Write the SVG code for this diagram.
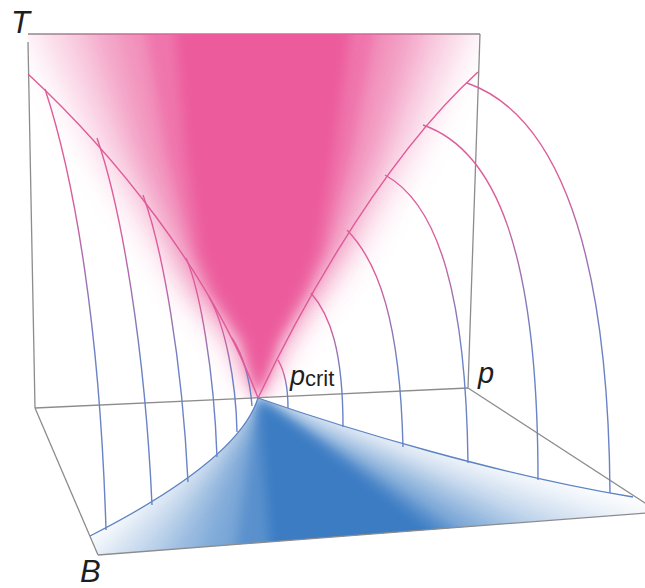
<svg xmlns="http://www.w3.org/2000/svg" width="645" height="588" viewBox="0 0 645 588">
  <defs>
    <style>
      .ax{fill:none;stroke:#8c8c8c;stroke-width:1.3}
      .pk{fill:#ec5b9c}
      .bl{fill:#3b7cc3}
      .bd{fill:none;stroke:#df5a98;stroke-width:1.4}
      .fl{fill:none;stroke:#5b82c2;stroke-width:1.3}
      .ln{fill:none;stroke:url(#lg);stroke-width:1.4}
      .lbl{font-family:"Liberation Sans",Arial,sans-serif;fill:#1e1e1e}
    </style>
    <linearGradient id="lg" x1="0" y1="0" x2="0" y2="1">
      <stop offset="0.22" stop-color="#de5c9a"/>
      <stop offset="0.6" stop-color="#6a82c6"/>
    </linearGradient>
    <filter id="b16" x="-40%" y="-40%" width="180%" height="180%">
      <feGaussianBlur stdDeviation="16"/>
    </filter>
    <filter id="b11" x="-40%" y="-40%" width="180%" height="180%">
      <feGaussianBlur stdDeviation="11"/>
    </filter>
    <filter id="b6" x="-40%" y="-40%" width="180%" height="180%">
      <feGaussianBlur stdDeviation="6"/>
    </filter>
    <clipPath id="wallClip">
      <polygon points="28,34 480,34 468,388 258,398 35,408"/>
    </clipPath>
    <clipPath id="floorClip">
      <path d="M258,398 C350,430 500,475 633,497 L659,512 L98,555 L90,536 C190,485 245,440 258,398 Z"/>
    </clipPath>
  </defs>

  <line class="ax" x1="28" y1="34" x2="480" y2="34" stroke="#b0b0b0"/>

  <g id="wall" clip-path="url(#wallClip)">
    <path class="pk" filter="url(#b16)" opacity="0.1667" d="M258,398 L225,340 L180,290 L155,250 L90,150 L30,34 L20,0 L485,0 L475,34 L420,150 L360,250 L330,290 L292,340 Z"/>
    <path class="pk" filter="url(#b16)" opacity="0.2" d="M258,398 L229,340 L187,290 L164,250 L109,150 L59,34 L50,0 L460,0 L450,34 L403,150 L352,250 L324,290 L289,340 Z"/>
    <path class="pk" filter="url(#b11)" opacity="0.25" d="M258,398 L233,340 L194,290 L173,250 L128,150 L88,34 L80,0 L435,0 L425,34 L386,150 L343,250 L319,290 L285,340 Z"/>
    <path class="pk" filter="url(#b11)" opacity="0.3333" d="M258,398 L238,340 L201,290 L182,250 L147,150 L117,34 L110,0 L405,0 L400,34 L369,150 L335,250 L313,290 L282,340 Z"/>
    <path class="pk" filter="url(#b6)" opacity="0.5" d="M258,398 L242,340 L208,290 L191,250 L166,150 L146,34 L140,0 L380,0 L375,34 L352,150 L326,250 L308,290 L278,340 Z"/>
    <path class="pk" filter="url(#b6)" d="M258,398 L246,340 L215,290 L200,250 L185,150 L175,34 L173,0 L352,0 L350,34 L335,150 L318,250 L302,290 L275,340 Z"/>
  </g>

  <g id="floor" clip-path="url(#floorClip)">
    <path class="bl" filter="url(#b16)" opacity="0.1667" d="M258,398 L-389,1000 L900,1000 L900,603 Z"/>
    <path class="bl" filter="url(#b16)" opacity="0.2" d="M258,398 L-250,1000 L900,1000 L900,658 Z"/>
    <path class="bl" filter="url(#b11)" opacity="0.25" d="M258,398 L-111,1000 L900,1000 L900,713 Z"/>
    <path class="bl" filter="url(#b11)" opacity="0.3333" d="M258,398 L29,1000 L900,1000 L900,769 Z"/>
    <path class="bl" filter="url(#b6)" opacity="0.5" d="M258,398 L168,1000 L900,1000 L900,824 Z"/>
    <path class="bl" filter="url(#b6)" d="M258,398 L307,1000 L900,1000 L900,879 Z"/>
  </g>

  <g id="axes">
    <line class="ax" x1="28" y1="42" x2="35" y2="408"/>
    <line class="ax" x1="480" y1="34" x2="468" y2="388"/>
    <line class="ax" x1="35" y1="408" x2="468" y2="388"/>
    <line class="ax" x1="35" y1="408" x2="98" y2="555"/>
    <line class="ax" x1="98" y1="555" x2="659" y2="512"/>
    <line class="ax" x1="468" y1="388" x2="659" y2="512"/>
  </g>

  <g id="connectors">
    <path class="fl" d="M258,398 C245,440 190,485 90,536"/>
    <path class="fl" d="M258,398 C350,430 500,475 633,497"/>

    <path class="ln" d="M45,89 C75,180 100,330 106,530"/>
    <path class="ln" d="M97,138 C122,210 145,350 152,505"/>
    <path class="ln" d="M143,195 C163,250 182,360 188,482"/>
    <path class="ln" d="M186,258 C200,290 214,370 217,457"/>
    <path class="ln" d="M209,297 C225,325 236,380 237,432"/>
    <path class="ln" d="M232,338 C243,355 250,380 252,406"/>

    <path class="ln" d="M278,360 C285,372 288,388 288,408"/>
    <path class="ln" d="M311,293 C330,315 343,350 343,427"/>
    <path class="ln" d="M347,230 C378,262 400,320 403,447"/>
    <path class="ln" d="M385,175 C440,205 466,300 468,463"/>
    <path class="ln" d="M423,125 C495,150 538,250 538,480"/>
    <path class="ln" d="M467,83 C545,110 608,220 610,493"/>

    <path class="bd" d="M28,74 C110,150 210,270 258,398"/>
    <path class="bd" d="M258,398 C283,345 370,170 478,72"/>
  </g>

  <g id="labels">
    <text class="lbl" x="11" y="33" font-size="31" font-style="italic">T</text>
    <text class="lbl" x="80" y="582" font-size="31" font-style="italic">B</text>
    <text class="lbl" x="478" y="383" font-size="29" font-style="italic">p</text>
    <text class="lbl" x="290" y="385" font-size="27" font-style="italic">p<tspan font-size="22" font-style="normal" dy="1">crit</tspan></text>
  </g>
</svg>
